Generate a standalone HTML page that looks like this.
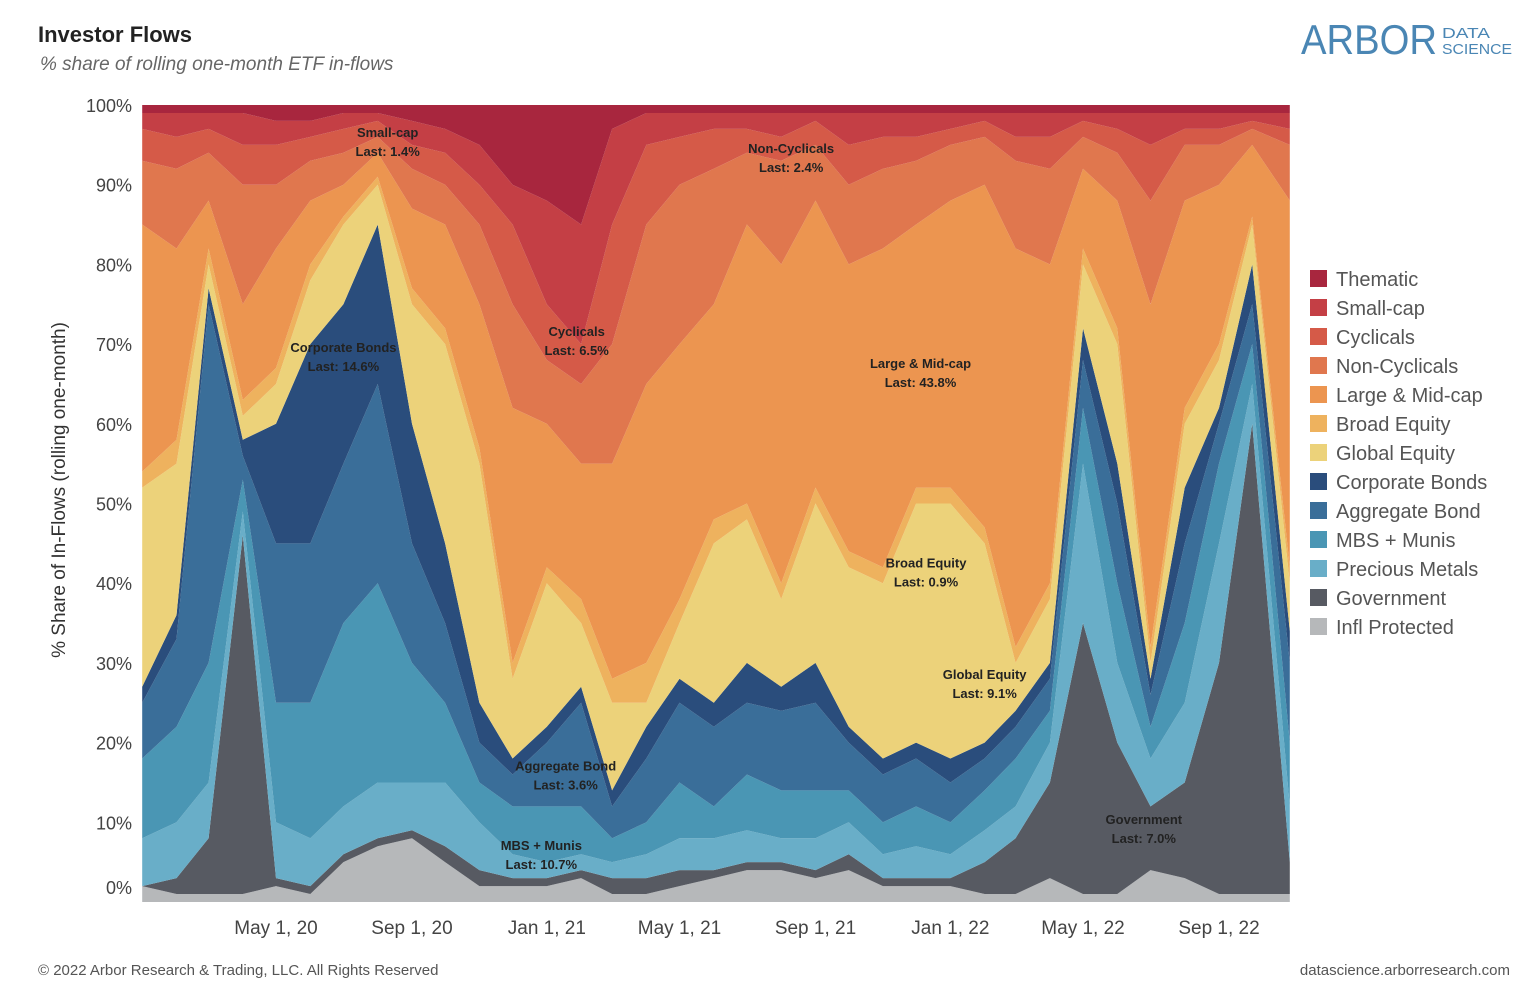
<!DOCTYPE html>
<html><head><meta charset="utf-8"><style>
body{margin:0;width:1540px;height:1000px;background:#fff;font-family:"Liberation Sans",sans-serif;overflow:hidden}
svg{position:absolute;left:0;top:0}
</style></head><body>
<svg id="c" width="1540" height="1000">
<text x="38" y="42" font-size="22" font-weight="bold" fill="#222">Investor Flows</text>
<text x="40" y="70" font-size="19" font-style="italic" fill="#666">% share of rolling one-month ETF in-flows</text>
<g>
<text x="1301" y="54" font-size="42" fill="#4a86b4" textLength="136" lengthAdjust="spacingAndGlyphs">ARBOR</text>
<text x="1442" y="38" font-size="15" fill="#4a86b4" textLength="48" lengthAdjust="spacingAndGlyphs">DATA</text>
<text x="1442" y="54" font-size="15" fill="#4a86b4" textLength="70" lengthAdjust="spacingAndGlyphs">SCIENCE</text>
</g>
<text transform="translate(65,490) rotate(-90)" text-anchor="middle" font-size="19" fill="#333">% Share of In-Flows (rolling one-month)</text>
<text x="38" y="975" font-size="15" fill="#555">© 2022 Arbor Research &amp; Trading, LLC. All Rights Reserved</text>
<text x="1510" y="975" font-size="15" fill="#555" text-anchor="end">datascience.arborresearch.com</text>
<g id="areas"></g><g id="axes"></g><g id="labels"></g><g id="legend"></g>
</svg>
<script>
const dates=["2020-01-01","2020-02-01","2020-03-01","2020-04-01","2020-05-01","2020-06-01","2020-07-01","2020-08-01","2020-09-01","2020-10-01","2020-11-01","2020-12-01","2021-01-01","2021-02-01","2021-03-01","2021-04-01","2021-05-01","2021-06-01","2021-07-01","2021-08-01","2021-09-01","2021-10-01","2021-11-01","2021-12-01","2022-01-01","2022-02-01","2022-03-01","2022-04-01","2022-05-01","2022-06-01","2022-07-01","2022-08-01","2022-09-01","2022-10-01","2022-11-04"];
const ip=[2,1,1,1,2,1,5,7,8,5,2,2,2,3,1,1,2,3,4,4,3,4,2,2,2,1,1,3,1,1,4,3,1,1,1];
const gov=[0,2,7,45,1,1,1,1,1,2,2,1,1,1,2,2,2,1,1,1,1,2,1,1,1,4,7,12,34,19,8,12,29,59,4];
const pm=[6,7,7,3,7,6,6,7,6,8,6,3,2,2,2,3,4,4,4,3,4,4,3,4,3,4,4,5,20,10,6,10,15,5,7];
const mbs=[10,12,15,4,15,17,23,25,15,10,5,6,7,6,3,4,7,4,7,6,6,4,4,5,4,5,6,4,7,10,4,10,10,5,8];
const agg=[7,11,45,3,20,20,20,25,15,10,5,4,8,13,4,8,10,10,9,10,11,6,6,6,5,4,4,4,6,10,4,10,5,5,10];
const corp=[2,3,2,2,15,25,20,20,15,10,5,2,2,2,2,4,3,3,5,3,5,2,2,2,3,2,2,2,4,5,2,7,2,5,4];
const glob=[25,19,3,3,5,8,10,5,15,25,30,10,18,8,11,3,7,20,18,11,20,20,22,30,32,25,6,8,8,15,2,8,6,5,6];
const broad=[2,3,2,2,2,2,1,1,2,2,2,2,2,3,3,5,3,3,2,2,2,2,2,2,2,2,2,2,2,2,2,2,2,1,2];
const large=[31,24,6,12,15,8,4,3,10,13,18,32,18,17,27,35,32,27,35,40,36,36,40,33,36,43,50,40,10,16,43,26,20,9,46];
const noncyc=[8,10,6,15,8,5,4,2,5,5,10,13,8,10,15,20,20,17,9,13,7,10,10,8,7,6,11,12,4,6,13,7,5,2,7];
const cyc=[4,4,3,5,5,3,3,2,3,4,5,10,7,5,15,10,6,5,3,3,3,5,4,3,2,2,3,4,2,3,7,2,2,1,2];
const small=[2,3,2,4,3,2,2,1,3,3,5,5,13,15,12,4,3,2,2,3,1,4,3,3,2,1,3,3,1,2,4,2,2,1,2];
const them=[1,1,1,1,2,2,1,1,2,3,5,10,12,15,3,1,1,1,1,1,1,1,1,1,1,1,1,1,1,1,1,1,1,1,1];
const seriesNames=["Infl Protected","Government","Precious Metals","MBS + Munis","Aggregate Bond","Corporate Bonds","Global Equity","Broad Equity","Large & Mid-cap","Non-Cyclicals","Cyclicals","Small-cap","Thematic"];
const seriesData=[ip,gov,pm,mbs,agg,corp,glob,broad,large,noncyc,cyc,small,them];
const colors=["#b6b8ba","#575a62","#69aec8","#4a96b4","#3a6e99","#2a4d7c","#ecd27a","#eeb25e","#ec9550","#e0774e","#d55a48","#c43f45","#a8263e"];
const yTicks=[0,10,20,30,40,50,60,70,80,90,100];
const xTickDates=["2020-05-01","2020-09-01","2021-01-01","2021-05-01","2021-09-01","2022-01-01","2022-05-01","2022-09-01"];
const xTickLabels=["May 1, 20","Sep 1, 20","Jan 1, 21","May 1, 21","Sep 1, 21","Jan 1, 22","May 1, 22","Sep 1, 22"];
const annotations=[["Small-cap","Last: 1.4%","2020-08-10",96],["Non-Cyclicals","Last: 2.4%","2021-08-10",94],["Cyclicals","Last: 6.5%","2021-01-28",71],["Corporate Bonds","Last: 14.6%","2020-07-01",69],["Large & Mid-cap","Last: 43.8%","2021-12-05",67],["Broad Equity","Last: 0.9%","2021-12-10",42],["Global Equity","Last: 9.1%","2022-02-01",28],["Aggregate Bond","Last: 3.6%","2021-01-18",16.5],["MBS + Munis","Last: 10.7%","2020-12-27",6.5],["Government","Last: 7.0%","2022-06-25",9.8]];
const NS="http://www.w3.org/2000/svg";
const L=143,R=1290,T=105,B=902;
const d0=Date.UTC(2020,4,1),pxDay=943/853;
function xs(s){const p=s.split("-");return 276+(Date.UTC(+p[0],+p[1]-1,+p[2])-d0)/86400000*pxDay;}
function ys(v){return B-(B-T)*v/100;}
function el(t,a,p){const e=document.createElementNS(NS,t);for(const k in a)e.setAttribute(k,a[k]);p.appendChild(e);return e;}
const n=dates.length,totals=[];
for(let i=0;i<n;i++){let s=0;seriesData.forEach(a=>s+=a[i]);totals.push(s);}
const cum=dates.map(()=>0);
const ga=document.getElementById("areas");
seriesData.forEach((arr,k)=>{
  const lo=cum.slice();
  for(let i=0;i<n;i++)cum[i]+=arr[i]/totals[i]*100;
  let d="";
  for(let i=0;i<n;i++)d+=(i?"L":"M")+Math.min(R,xs(dates[i])).toFixed(1)+","+ys(cum[i]).toFixed(1);
  for(let i=n-1;i>=0;i--)d+="L"+Math.min(R,xs(dates[i])).toFixed(1)+","+ys(lo[i]).toFixed(1);
  const p=el("path",{d:d+"Z",fill:colors[k]},ga);
  
  
});
const gx=document.getElementById("axes");
yTicks.forEach(v=>{
  const t=el("text",{x:132,y:Math.min(ys(v)+7,B-8),"text-anchor":"end","font-size":18,fill:"#444"},gx);t.textContent=v+"%";
  
  
});
xTickDates.forEach((s,i)=>{
  const t=el("text",{x:xs(s),y:934,"text-anchor":"middle","font-size":19,fill:"#444"},gx);t.textContent=xTickLabels[i];
  
  
});
const gl=document.getElementById("labels");
annotations.forEach(a=>{
  const t=el("text",{x:xs(a[2]),y:ys(a[3]),"text-anchor":"middle","font-size":13,"font-weight":"bold",fill:"#222"},gl);
  
  
  el("tspan",{x:xs(a[2]),dy:0},t).textContent=a[0];
  el("tspan",{x:xs(a[2]),dy:19},t).textContent=a[1];
});
const lg=document.getElementById("legend");
for(let k=12;k>=0;k--){
  const j=12-k,y=270+j*29;
  const g=el("g",{},lg);
  
  
  el("rect",{x:1310,y:y,width:17,height:17,fill:colors[k]},g);
  el("text",{x:1336,y:y+16,"font-size":20,fill:"#555"},g).textContent=seriesNames[k];
}
</script>
</body></html>
